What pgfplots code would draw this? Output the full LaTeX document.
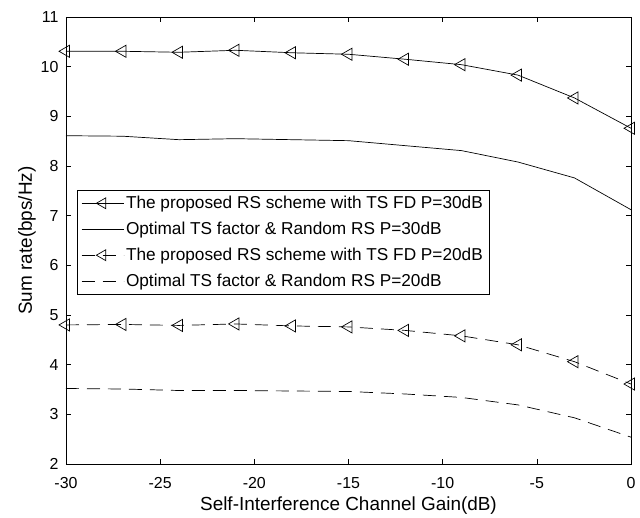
\documentclass[border=0pt]{standalone}
\usepackage{pgfplots}
\pgfplotsset{compat=1.18}
\usepackage{fontspec}
\setmainfont{Liberation Sans}
\begin{document}
\begin{tikzpicture}
\begin{axis}[
  scale only axis,
  width=565bp, height=447bp,
  xmin=-30, xmax=0, ymin=2, ymax=11,
  xtick={-30,-25,...,0}, ytick={2,3,...,11},
  tick align=inside, major tick length=5bp,
  xtick pos=both, ytick pos=both,
  font=\fontsize{16}{19}\selectfont,
  ticklabel style={font=\fontsize{16}{19}\selectfont},
  xticklabel style={yshift=-10bp},
  yticklabel style={xshift=-4bp},
  /pgf/number format/assume math mode=true,
  xlabel={Self-Interference Channel Gain(dB)},
  ylabel={Sum rate(bps/Hz)},
  label style={font=\fontsize{19}{22}\selectfont},
  xlabel style={yshift=-1bp},
  ylabel style={yshift=-2bp},
  axis line style={line width=0.8pt},
  every tick/.style={black, line width=0.6pt},
  legend style={at={(0.0195,0.613)}, anchor=north west, draw=black, fill=white,
    font=\fontsize{17.3}{20}\selectfont, row sep=8bp, inner sep=4bp, line width=0.6pt},
  legend cell align=left,
  legend image code/.code={\draw[mark repeat=2,mark phase=2,mark size=6.3bp] plot coordinates {(0bp,0bp) (21bp,0bp) (42bp,0bp)};},
  clip=false,
]
\addplot[black, line width=0.7pt, mark=triangle, mark size=7bp, mark options={rotate=90, solid, fill=none}]
 coordinates {(-30,10.31) (-27,10.31) (-24,10.29) (-21,10.33) (-18,10.28) (-15,10.25) (-12,10.15) (-9,10.04) (-6,9.83) (-3,9.37) (0,8.76)};
\addlegendentry{The proposed RS scheme with TS FD P=30dB}
\addplot[black, line width=0.7pt]
 coordinates {(-30,8.61) (-27,8.60) (-24,8.53) (-21,8.55) (-18,8.53) (-15,8.51) (-12,8.41) (-9,8.31) (-6,8.08) (-3,7.76) (0,7.12)};
\addlegendentry{Optimal TS factor \& Random RS P=30dB}
\addplot[black, line width=0.7pt, dash pattern=on 13bp off 8bp, mark=triangle, mark size=7bp, mark options={rotate=90, solid, fill=none}]
 coordinates {(-30,4.80) (-27,4.81) (-24,4.79) (-21,4.82) (-18,4.78) (-15,4.76) (-12,4.69) (-9,4.58) (-6,4.40) (-3,4.06) (0,3.61)};
\addlegendentry{The proposed RS scheme with TS FD P=20dB}
\addplot[black, line width=0.7pt, dash pattern=on 13bp off 8bp]
 coordinates {(-30,3.52) (-27,3.51) (-24,3.48) (-21,3.48) (-18,3.47) (-15,3.46) (-12,3.41) (-9,3.34) (-6,3.19) (-3,2.93) (0,2.54)};
\addlegendentry{Optimal TS factor \& Random RS P=20dB}
\end{axis}
\pgfresetboundingbox
\path (-66bp,-54bp) rectangle (574bp,464bp);
\end{tikzpicture}
\end{document}
